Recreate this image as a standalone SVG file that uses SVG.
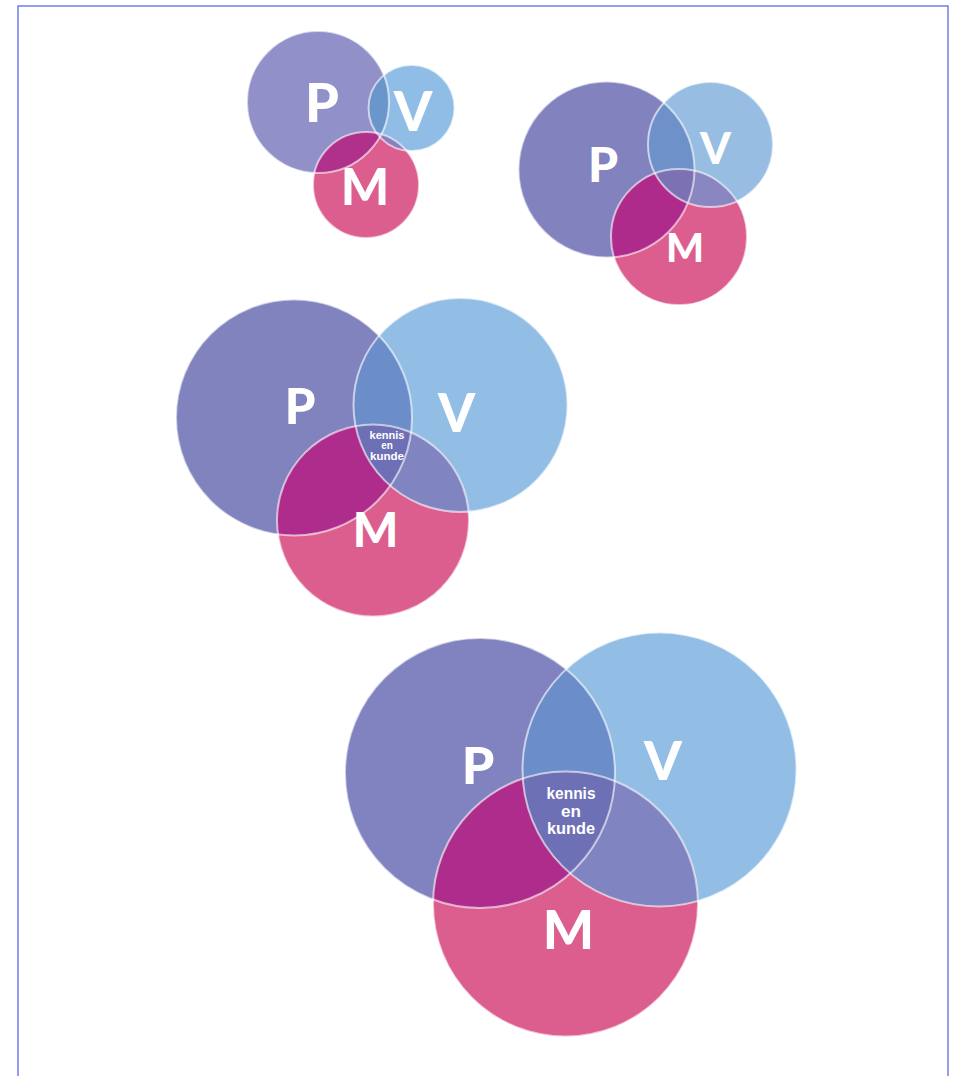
<svg xmlns="http://www.w3.org/2000/svg" width="955" height="1076" viewBox="0 0 955 1076">
<style>
.lt{font-family:Lato,"Open Sans","Liberation Sans",sans-serif;font-weight:900;fill:#fff;text-anchor:middle}
.kk{font-family:"Liberation Sans",Arial,sans-serif;font-weight:700;fill:#fff;text-anchor:middle}
.edge{fill:none;stroke:#ffffff;stroke-opacity:0.6;stroke-width:2}
</style>
<defs>
<clipPath id="c1P"><circle cx="318" cy="102" r="71"/></clipPath>
<clipPath id="c1V"><circle cx="411.5" cy="108" r="43"/></clipPath>
<clipPath id="c2P"><circle cx="606.5" cy="169.5" r="88"/></clipPath>
<clipPath id="c2V"><circle cx="710.5" cy="144.5" r="62.5"/></clipPath>
<clipPath id="c3P"><circle cx="294" cy="417.5" r="118"/></clipPath>
<clipPath id="c3V"><circle cx="460.5" cy="405" r="107"/></clipPath>
<clipPath id="c4P"><circle cx="480" cy="773" r="135"/></clipPath>
<clipPath id="c4V"><circle cx="659.5" cy="769.5" r="137"/></clipPath>
</defs>
<rect x="18" y="6" width="930" height="1100" fill="#ffffff" stroke="#4d5ce8" stroke-width="1.2"/>

<g id="diagram1">
  <g id="d1-P"><circle cx="318" cy="102" r="71" fill="#9190c8"/></g>
  <g id="d1-V"><circle cx="411.5" cy="108" r="43" fill="#8fbde6"/></g>
  <g id="d1-M"><circle cx="366" cy="185" r="53" fill="#dc5e8e"/></g>
  <g id="d1-overlaps">
    <circle cx="411.5" cy="108" r="43" fill="#6b96cc" clip-path="url(#c1P)"/>
    <circle cx="366" cy="185" r="53" fill="#b0318c" clip-path="url(#c1P)"/>
    <circle cx="366" cy="185" r="53" fill="#8a80bc" clip-path="url(#c1V)"/>
    <g clip-path="url(#c1P)"><circle cx="366" cy="185" r="53" fill="#7a72b4" clip-path="url(#c1V)"/></g>
  </g>
  <g id="d1-edges">
    <circle class="edge" cx="318" cy="102" r="71"/>
    <circle class="edge" cx="411.5" cy="108" r="43"/>
    <circle class="edge" cx="366" cy="185" r="53"/>
  </g>
  <text class="lt" x="322" y="122" font-size="54">P</text>
  <text class="lt" x="413" y="131" font-size="55">V</text>
  <text class="lt" x="365" y="205" font-size="51">M</text>
</g>

<g id="diagram2">
  <g id="d2-P"><circle cx="606.5" cy="169.5" r="88" fill="#8283be"/></g>
  <g id="d2-V"><circle cx="710.5" cy="144.5" r="62.5" fill="#98bde2"/></g>
  <g id="d2-M"><circle cx="679" cy="237" r="68" fill="#dc5e8e"/></g>
  <g id="d2-overlaps">
    <circle cx="710.5" cy="144.5" r="62.5" fill="#6e91c9" clip-path="url(#c2P)"/>
    <circle cx="679" cy="237" r="68" fill="#ae2b8c" clip-path="url(#c2P)"/>
    <circle cx="679" cy="237" r="68" fill="#8a86c1" clip-path="url(#c2V)"/>
    <g clip-path="url(#c2P)"><circle cx="679" cy="237" r="68" fill="#7b71b3" clip-path="url(#c2V)"/></g>
  </g>
  <g id="d2-edges">
    <circle class="edge" cx="606.5" cy="169.5" r="88"/>
    <circle class="edge" cx="710.5" cy="144.5" r="62.5"/>
    <circle class="edge" cx="679" cy="237" r="68"/>
  </g>
  <text class="lt" x="603" y="182" font-size="48">P</text>
  <text class="lt" x="715.5" y="164" font-size="44">V</text>
  <text class="lt" x="685" y="262" font-size="40">M</text>
</g>

<g id="diagram3">
  <g id="d3-P"><circle cx="294" cy="417.5" r="118" fill="#8183bf"/></g>
  <g id="d3-V"><circle cx="460.5" cy="405" r="107" fill="#92bee6"/></g>
  <g id="d3-M"><circle cx="373" cy="520.5" r="96" fill="#dc5e8e"/></g>
  <g id="d3-overlaps">
    <circle cx="460.5" cy="405" r="107" fill="#6b8dc9" clip-path="url(#c3P)"/>
    <circle cx="373" cy="520.5" r="96" fill="#ae2d8c" clip-path="url(#c3P)"/>
    <circle cx="373" cy="520.5" r="96" fill="#8085c1" clip-path="url(#c3V)"/>
    <g clip-path="url(#c3P)"><circle cx="373" cy="520.5" r="96" fill="#6e70b5" clip-path="url(#c3V)"/></g>
  </g>
  <g id="d3-edges">
    <circle class="edge" cx="294" cy="417.5" r="118"/>
    <circle class="edge" cx="460.5" cy="405" r="107"/>
    <circle class="edge" cx="373" cy="520.5" r="96"/>
  </g>
  <text class="lt" x="300" y="424" font-size="49">P</text>
  <text class="lt" x="456.5" y="432" font-size="53">V</text>
  <text class="lt" x="375.5" y="547" font-size="48">M</text>
  <g id="d3-center">
    <text class="kk" x="387" y="438.5" font-size="10" textLength="35" lengthAdjust="spacingAndGlyphs">kennis</text>
    <text class="kk" x="387" y="449" font-size="10">en</text>
    <text class="kk" x="387" y="459.5" font-size="10" textLength="34" lengthAdjust="spacingAndGlyphs">kunde</text>
  </g>
</g>

<g id="diagram4">
  <g id="d4-P"><circle cx="480" cy="773" r="135" fill="#8083bf"/></g>
  <g id="d4-V"><circle cx="659.5" cy="769.5" r="137" fill="#92bee6"/></g>
  <g id="d4-M"><circle cx="565.5" cy="904" r="132.5" fill="#dc5e8e"/></g>
  <g id="d4-overlaps">
    <circle cx="659.5" cy="769.5" r="137" fill="#6b8dc9" clip-path="url(#c4P)"/>
    <circle cx="565.5" cy="904" r="132.5" fill="#ae2d8c" clip-path="url(#c4P)"/>
    <circle cx="565.5" cy="904" r="132.5" fill="#8085c1" clip-path="url(#c4V)"/>
    <g clip-path="url(#c4P)"><circle cx="565.5" cy="904" r="132.5" fill="#6d70b5" clip-path="url(#c4V)"/></g>
  </g>
  <g id="d4-edges">
    <circle class="edge" cx="480" cy="773" r="135"/>
    <circle class="edge" cx="659.5" cy="769.5" r="137"/>
    <circle class="edge" cx="565.5" cy="904" r="132.5"/>
  </g>
  <text class="lt" x="478" y="784" font-size="52">P</text>
  <text class="lt" x="663" y="780" font-size="54">V</text>
  <text class="lt" x="568.5" y="949" font-size="54">M</text>
  <g id="d4-center">
    <text class="kk" x="571" y="799" font-size="17" textLength="49" lengthAdjust="spacingAndGlyphs">kennis</text>
    <text class="kk" x="571" y="817" font-size="17">en</text>
    <text class="kk" x="571" y="834" font-size="17" textLength="48" lengthAdjust="spacingAndGlyphs">kunde</text>
  </g>
</g>
</svg>
